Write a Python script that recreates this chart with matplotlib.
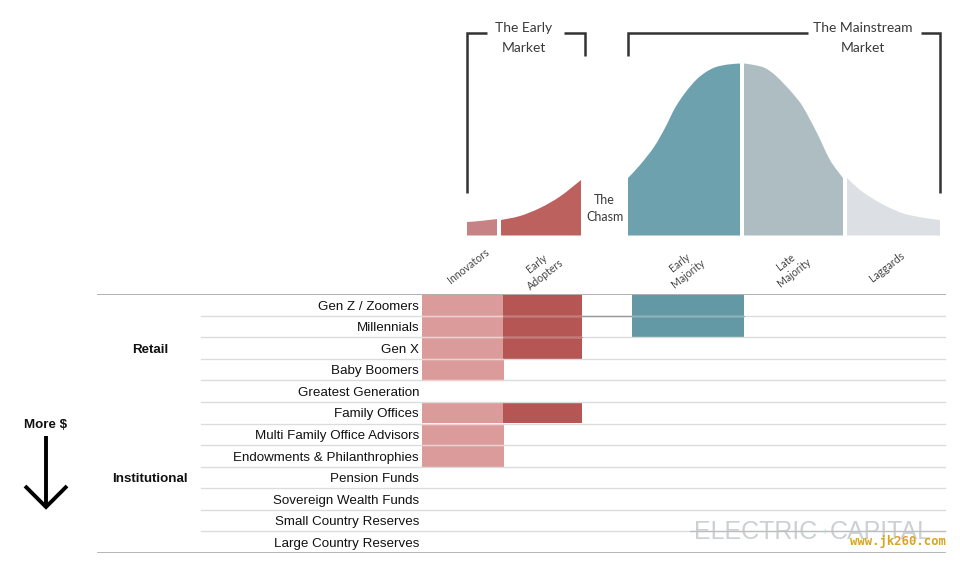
import matplotlib
matplotlib.use("Agg")
import matplotlib.pyplot as plt
from matplotlib.path import Path
from matplotlib.patches import PathPatch

W, H = 960, 561
HELV = "Liberation Sans"
GEO = "Lato"

# Table content
rows = ["Gen Z / Zoomers", "Millennials", "Gen X", "Baby Boomers", "Greatest Generation",
        "Family Offices", "Multi Family Office Advisors", "Endowments & Philanthrophies",
        "Pension Funds", "Sovereign Wealth Funds", "Small Country Reserves", "Large Country Reserves"]
innovators_rows = [0, 1, 2, 3, 5, 6, 7]
early_adopters_rows = [0, 1, 2, 5]
early_majority_rows = [0, 1]

# Adoption curve outlines
innov_x = [467, 480, 497]
innov_y = [222, 221, 219]
adopt_x = [501, 520, 540, 560, 581]
adopt_y = [220, 216, 208, 196.5, 180]
emaj_x = [628, 640, 654, 665, 675, 685, 696, 706, 716, 728, 740]
emaj_y = [178, 165, 147, 128, 108, 93, 80, 72, 67, 64.5, 63.5]
lmaj_x = [744, 754, 765, 775, 785, 794, 803, 817, 830, 843]
lmaj_y = [63.5, 65, 68, 75, 85, 95, 107, 133, 160, 178]
lag_x = [847, 860, 875, 890, 905, 925, 940]
lag_y = [178, 190, 200, 208, 214, 218, 220]

stage_labels = ["Innovators", "Early\nAdopters", "Early\nMajority", "Late\nMajority", "Laggards"]
stage_label_x = [468, 541, 684, 790, 887]
stage_label_y = [266, 269, 268, 267, 267]

fig = plt.figure(figsize=(W / 100, H / 100), dpi=100)
ax = fig.add_axes([0, 0, 1, 1])
ax.set_xlim(0, W)
ax.set_ylim(H, 0)
ax.axis("off")

BASE = 235.5


def smooth_area(xs, ys, color):
    """Closed area under a smooth outline through the read points."""
    pts = list(zip(xs, ys))
    verts = [(xs[0], BASE), pts[0]]
    codes = [Path.MOVETO, Path.LINETO]
    n = len(pts)
    for i in range(n - 1):
        p0 = pts[max(i - 1, 0)]
        p1 = pts[i]
        p2 = pts[i + 1]
        p3 = pts[min(i + 2, n - 1)]
        c1 = (p1[0] + (p2[0] - p0[0]) / 6, p1[1] + (p2[1] - p0[1]) / 6)
        c2 = (p2[0] - (p3[0] - p1[0]) / 6, p2[1] - (p3[1] - p1[1]) / 6)
        verts += [c1, c2, p2]
        codes += [Path.CURVE4] * 3
    verts += [(xs[-1], BASE), (xs[0], BASE)]
    codes += [Path.LINETO, Path.CLOSEPOLY]
    ax.add_patch(PathPatch(Path(verts, codes), facecolor=color, lw=0))


for xs, ys, c in [(innov_x, innov_y, "#c78285"), (adopt_x, adopt_y, "#bd615f"),
                  (emaj_x, emaj_y, "#6ca1ad"), (lmaj_x, lmaj_y, "#aebdc1"),
                  (lag_x, lag_y, "#dcdfe3")]:
    smooth_area(xs, ys, c)

# Brackets
BR = dict(color="#333333", lw=1.8, solid_capstyle="butt", solid_joinstyle="miter")
ax.plot([467, 467, 487], [193, 33, 33], **BR)
ax.plot([564, 584.5, 584.5], [33, 33, 56], **BR)
ax.plot([628, 628, 808], [56, 33, 33], **BR)
ax.plot([921, 940, 940], [33, 33, 193], **BR)

T = dict(family=GEO, color="#3a3a3a", ha="center", va="center")
ax.text(524, 28, "The Early", fontsize=10, **T)
ax.text(524, 48, "Market", fontsize=10, **T)
ax.text(863, 28, "The Mainstream", fontsize=10, **T)
ax.text(863, 48, "Market", fontsize=10, **T)
ax.text(604, 200, "The", fontsize=9, **T)
ax.text(605, 217, "Chasm", fontsize=9, **T)
for s, x, y in zip(stage_labels, stage_label_x, stage_label_y):
    ax.text(x, y, s, fontsize=7.6, rotation=38, rotation_mode="anchor", linespacing=1.25,
            family=GEO, color="#444444", ha="center", va="center")

# Table axes: x in figure pixels, y in row units
TOP, BOTTOM = 294, 553
tb = fig.add_axes([0, 1 - BOTTOM / H, 1, (BOTTOM - TOP) / H])
tb.set_xlim(0, W)
tb.set_ylim(len(rows), 0)
tb.axis("off")
tb.patch.set_alpha(0)

tb.barh([r + .5 for r in innovators_rows], 82, left=422, height=1, color="#dc9b9b", lw=0)
tb.barh([r + .5 for r in early_adopters_rows], 79, left=503, height=1, color="#b55655", lw=0)
tb.barh([r + .5 for r in early_majority_rows], 112, left=632, height=1, color="#6398a5", lw=0)

for i in range(1, len(rows)):
    tb.plot([201, 945], [i, i], color="#dcdcdc", lw=1, zorder=1)
for i in [1, 2, 3, 4, 6, 7]:
    tb.plot([422, 503], [i, i], color="#f0cfcf", lw=.9, zorder=3)
for i in [1, 2]:
    tb.plot([503, 582], [i, i], color="#c77c7c", lw=.8, zorder=3)
tb.plot([582, 632], [1, 1], color="#999999", lw=1, zorder=3)
tb.plot([632, 744], [1, 1], color="#8db4be", lw=.8, zorder=3)
tb.plot([98, 945], [0, 0], color="#b0b0b0", lw=1.4, zorder=4)
tb.plot([98, 945], [12, 12], color="#a8a8a8", lw=1.2, zorder=4)
tb.plot([690, 945], [11, 11], color="#bdbdbd", lw=.9, zorder=2)

LBL = dict(family=HELV, fontsize=9.6, color="#111111", va="center")
DY = 0.08
for i, s in enumerate(rows):
    tb.text(419, i + .5 + DY, s, ha="right", **LBL)
tb.text(150, 2.5 + DY, "Retail", weight="bold", ha="center", **LBL)
tb.text(150, 8.5 + DY, "Institutional", weight="bold", ha="center", **LBL)

# More $ arrow
ax.text(46, 424.5, "More $", weight="bold", ha="center", **LBL)
AR = dict(color="black", lw=2.8, solid_capstyle="butt", solid_joinstyle="miter")
ax.plot([46, 46], [436, 507], **AR)
ax.plot([25, 46, 67], [486, 507, 486], **AR)

# Logo and stamp
LOGO = dict(family=HELV, fontsize=18, color="#cdd0d2", ha="center", va="center", zorder=6)
ax.text(756, 532, "ELECTRIC", **LOGO)
ax.text(824.5, 532, "+", family=HELV, fontsize=8, color="#bcdfe8", ha="center", va="center", zorder=6)
ax.text(881, 532, "CAPITAL", **LOGO)
ax.text(897.5, 541, "www.jk260.com", family="DejaVu Sans Mono", weight="bold", fontsize=8.8,
        color="#d9a520", ha="center", va="center", zorder=7)

fig.savefig("out.png", dpi=100)
